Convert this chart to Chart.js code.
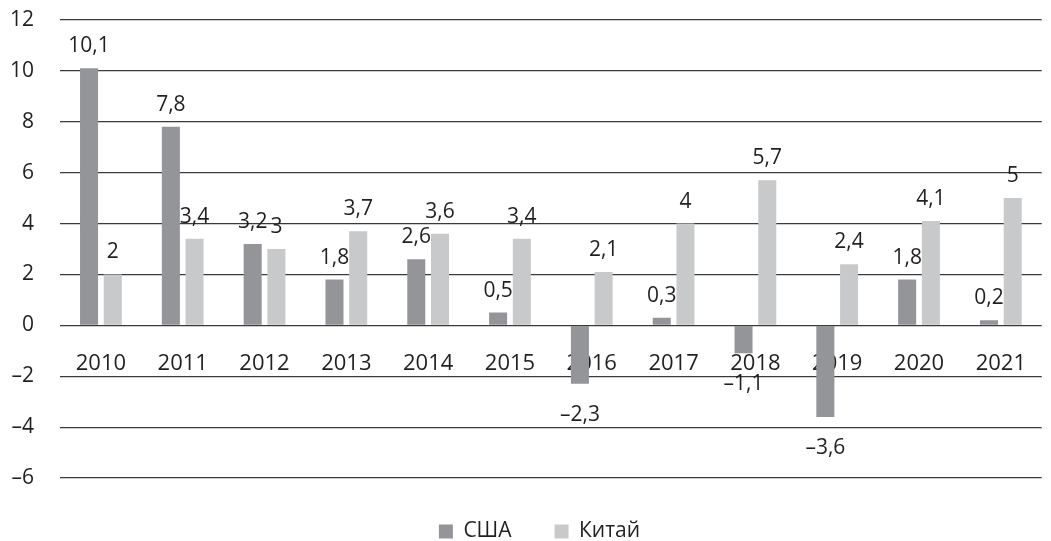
<!DOCTYPE html>
<html>
<head>
<meta charset="utf-8">
<script src="https://cdn.jsdelivr.net/npm/chart.js@4"></script>
<style>
  html, body { margin: 0; padding: 0; background: #fff; }
  #wrap { width: 1051px; height: 541px; }
</style>
</head>
<body>
<div id="wrap"><canvas id="chart"></canvas></div>
<script>
const years = ["2010", "2011", "2012", "2013", "2014", "2015", "2016", "2017", "2018", "2019", "2020", "2021"];
const usa = [10.1, 7.8, 3.2, 1.8, 2.6, 0.5, -2.3, 0.3, -1.1, -3.6, 1.8, 0.2];
const china = [2, 3.4, 3, 3.7, 3.6, 3.4, 2.1, 4, 5.7, 2.4, 4.1, 5];
const seriesNames = ["США", "Китай"];

const FONT = "'Open Sans', sans-serif";
const TEXT = "#231f20";

function fmt(v) {
  const s = String(Math.abs(v)).replace(".", ",");
  return v < 0 ? "\u2013" + s : s;
}

// value labels above (or below) each bar
const barLabels = {
  id: "barLabels",
  afterDatasetsDraw(chart) {
    const ctx = chart.ctx;
    ctx.save();
    ctx.font = "21px " + FONT;
    ctx.fillStyle = TEXT;
    ctx.textAlign = "center";
    ctx.textBaseline = "alphabetic";
    chart.data.datasets.forEach((ds, i) => {
      chart.getDatasetMeta(i).data.forEach((bar, j) => {
        const v = ds.data[j];
        const y = v >= 0 ? bar.y - 16 : bar.y + 37;
        ctx.fillText(fmt(v), bar.x, y);
      });
    });
    ctx.restore();
  },
};

// legend in the original sits a little right of centre
const legendShift = {
  id: "legendShift",
  afterLayout(chart) {
    chart.legend.left += 14;
    chart.legend.right += 14;
  },
};

function init() {
  const ctx = document.getElementById("chart").getContext("2d");
  new Chart(ctx, {
    type: "bar",
    data: {
      labels: years,
      datasets: [
        { label: seriesNames[0], data: usa, backgroundColor: "#939598" },
        { label: seriesNames[1], data: china, backgroundColor: "#c8c9cb" },
      ],
    },
    options: {
      responsive: true,
      maintainAspectRatio: false,
      animation: false,
      categoryPercentage: 0.58,
      barPercentage: 0.76,
      layout: { padding: { top: 20, right: 0, left: 0, bottom: -11 } },
      plugins: {
        legend: {
          position: "bottom",
          labels: {
            font: { family: FONT, size: 21 },
            color: TEXT,
            boxWidth: 14,
            boxHeight: 14,
            padding: 43,
          },
        },
        tooltip: { enabled: false },
      },
      scales: {
        x: {
          position: { y: 0 },
          grid: { display: false, drawTicks: false },
          border: { display: false },
          ticks: { font: { family: FONT, size: 22 }, color: TEXT, padding: 25 },
        },
        y: {
          min: -6,
          max: 12,
          afterFit(scale) {
            scale.width = 60;
            scale.paddingTop = 0;
            scale.paddingBottom = 0;
          },
          grid: { color: "#3a3a3a", lineWidth: 1.2, drawTicks: false },
          border: { display: false },
          ticks: {
            stepSize: 2,
            padding: 26,
            font: { family: FONT, size: 21 },
            color: TEXT,
            callback: (v) => fmt(v),
          },
        },
      },
    },
    plugins: [barLabels, legendShift],
  });
}

document.addEventListener("DOMContentLoaded", init);
</script>
</body>
</html>
